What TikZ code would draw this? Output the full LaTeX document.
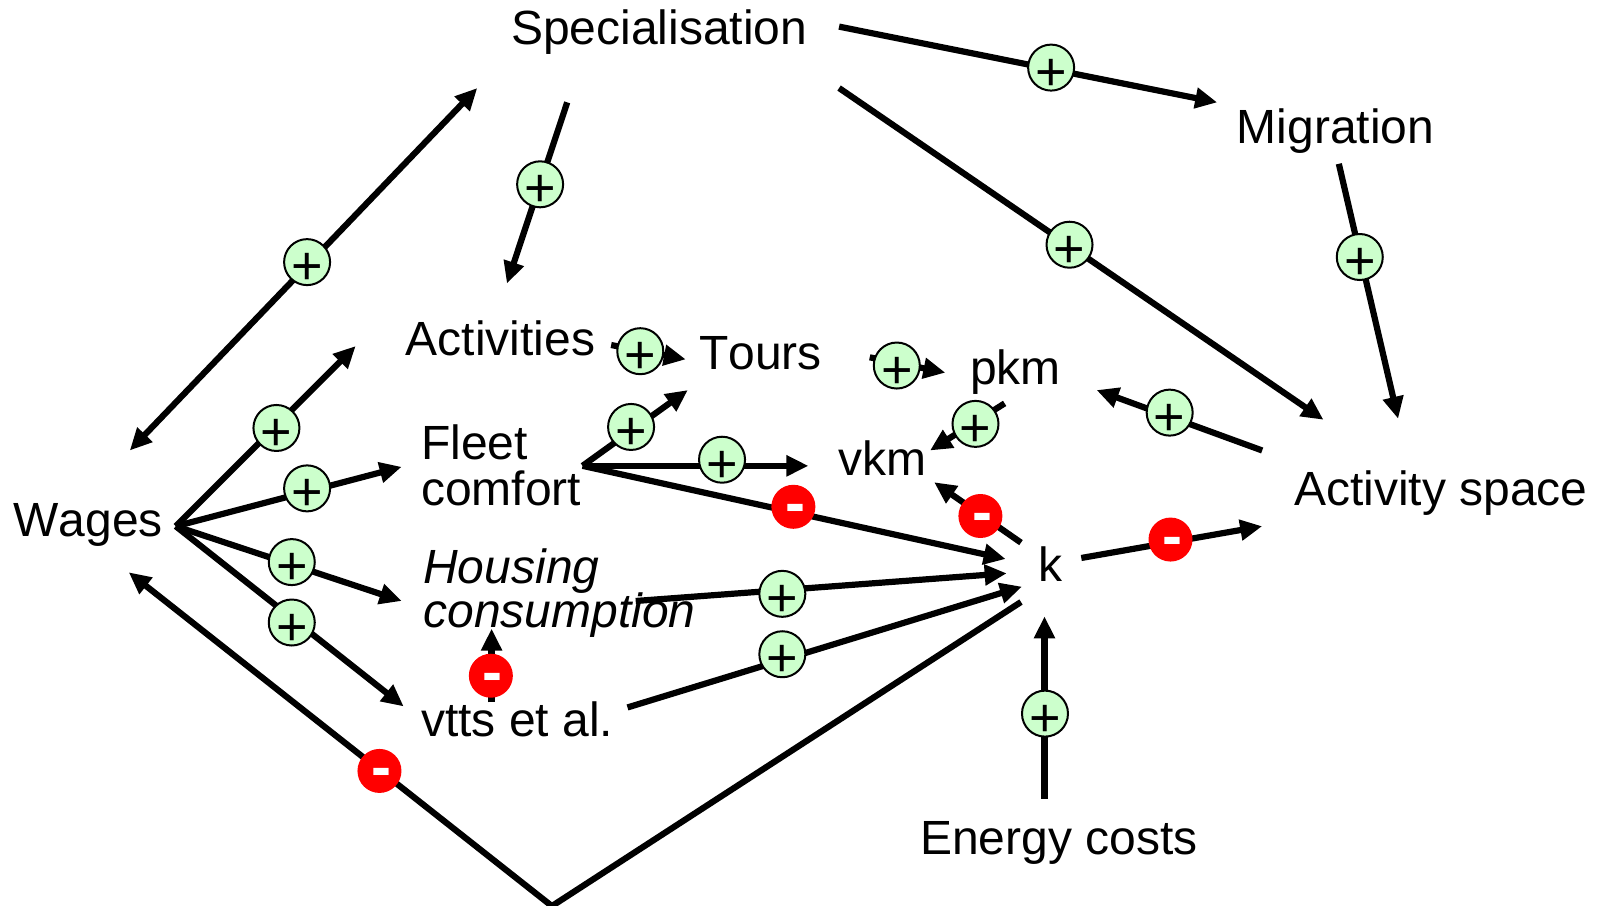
\documentclass[tikz,border=0pt]{standalone}
\usepackage{fontspec}
\setmainfont[Kerning=Off]{Liberation Sans}
\usetikzlibrary{arrows.meta}
\definecolor{plusgreen}{RGB}{204,255,204}
\tikzset{
  x=1.022pt,y=-1.0238pt,
  lbl/.style={anchor=base west,inner sep=0pt,font=\fontsize{48}{46}\selectfont},
  conn/.style={line width=6.2pt,line join=miter,-{Triangle[length=22pt,width=20pt]}},
  both/.style={line width=6.2pt,{Triangle[length=22pt,width=20pt]}-{Triangle[length=22pt,width=20pt]}},
  plusbadge/.style={circle,draw=black,line width=2pt,fill=plusgreen,minimum size=46pt,inner sep=0pt,xshift=0.5pt,yshift=1pt,text height=45pt,text depth=0pt,font=\fontsize{54}{54}\selectfont},
  minusbadge/.style={circle,fill=red,text=white,minimum size=44pt,inner sep=0pt,xshift=0.3pt,yshift=0pt,text height=33pt,text depth=0pt,font=\fontsize{60}{60}\bfseries\selectfont},
}
\newcommand{\plussign}{\makebox[0pt]{+}}
\newcommand{\minussign}{\makebox[0pt]{\hspace*{4pt}-}}
\begin{document}
\begin{tikzpicture}
\path[use as bounding box] (0pt,0pt) rectangle (1603pt,-905pt);
% texts
\node[lbl] (spec) at (500,43) {Specialisation};
\node[lbl] (migr) at (1210,140) {Migration};
\node[lbl] (acti) at (397,347) {Activities};
\node[lbl] (tour) at (684,361) {Tours};
\node[lbl] (pkm) at (949,376) {pkm};
\node[lbl] (fleet) at (412,449) {Fleet};
\node[lbl] (comf) at (412,494) {comfort};
\node[lbl] (vkm) at (820,464) {vkm};
\node[lbl] (wage) at (13,524) {Wages};
\node[lbl] (hous) at (414,570) {\itshape Housing};
\node[lbl] (cons) at (414,613) {\itshape consumption};
\node[lbl] (k) at (1016,568) {k};
\node[lbl] (vtts) at (412,719) {vtts et al.};
\node[lbl] (aspace) at (1266,494) {Activity space};
\node[lbl] (ener) at (900,835) {Energy costs};
% connector ends
\coordinate (wS) at (127,440);
\coordinate (sW) at (467,86);
\coordinate (sA) at (555,100);
\coordinate (aS) at (496,277);
\coordinate (sM) at (821,26);
\coordinate (mS) at (1191,100);
\coordinate (sX) at (821,86);
\coordinate (xS) at (1295,410);
\coordinate (mX) at (1310,160);
\coordinate (xM) at (1368,409);
\coordinate (wF) at (172,514);
\coordinate (aW) at (348,338);
\coordinate (fW) at (393,456);
\coordinate (hW) at (393,587);
\coordinate (vW) at (395,690);
\coordinate (aT) at (598,337);
\coordinate (tA) at (671,351);
\coordinate (tP) at (851,349);
\coordinate (pT) at (925,364);
\coordinate (fF) at (570,455);
\coordinate (tF) at (673,381);
\coordinate (vF) at (791,455);
\coordinate (kF) at (984,546);
\coordinate (pV) at (983,394);
\coordinate (vP) at (910,440);
\coordinate (xP) at (1235,440);
\coordinate (pX) at (1073,381);
\coordinate (kV) at (999,530);
\coordinate (vK) at (914,471);
\coordinate (kX) at (1058,545);
\coordinate (xK) at (1235,514);
\coordinate (hK) at (622,587);
\coordinate (kH) at (985,560);
\coordinate (vtK) at (614,691);
\coordinate (kVt) at (1000,573);
\coordinate (vtH) at (481,686);
\coordinate (hVt) at (481,614);
\coordinate (eK) at (1022,780);
\coordinate (kE) at (1022,602);
\coordinate (kW) at (999,588);
\coordinate (apex) at (540,885);
\coordinate (wK) at (126,559);
% connectors
\draw[both] (wS) -- (sW);
\draw[conn] (sA) -- (aS);
\draw[conn] (sM) -- (mS);
\draw[conn] (sX) -- (xS);
\draw[conn] (mX) -- (xM);
\draw[conn] (wF) -- (aW);
\draw[conn] (wF) -- (fW);
\draw[conn] (wF) -- (hW);
\draw[conn] (wF) -- (vW);
\draw[conn] (aT) -- (tA);
\draw[conn] (tP) -- (pT);
\draw[conn] (fF) -- (tF);
\draw[conn] (fF) -- (vF);
\draw[conn] (fF) -- (kF);
\draw[conn] (pV) -- (vP);
\draw[conn] (xP) -- (pX);
\draw[conn] (kV) -- (vK);
\draw[conn] (kX) -- (xK);
\draw[conn] (hK) -- (kH);
\draw[conn] (vtK) -- (kVt);
\draw[conn] (vtH) -- (hVt);
\draw[conn] (eK) -- (kE);
\draw[conn] (kW) -- (apex) -- (wK);
% badges
\node[plusbadge] (b1) at (300,257) {\plussign};
\node[plusbadge] (b2) at (528,181) {\plussign};
\node[plusbadge] (b3) at (1028,67) {\plussign};
\node[plusbadge] (b4) at (1046,240) {\plussign};
\node[plusbadge] (b5) at (1330,252) {\plussign};
\node[plusbadge] (b6) at (270,419) {\plussign};
\node[plusbadge] (b7) at (300,478) {\plussign};
\node[plusbadge] (b8) at (285,550) {\plussign};
\node[plusbadge] (b9) at (285,609) {\plussign};
\node[plusbadge] (b10) at (626,344) {\plussign};
\node[plusbadge] (b11) at (877,358) {\plussign};
\node[plusbadge] (b12) at (617,418) {\plussign};
\node[plusbadge] (b13) at (706,450) {\plussign};
\node[plusbadge] (b14) at (954,415) {\plussign};
\node[plusbadge] (b15) at (1144,404) {\plussign};
\node[plusbadge] (b16) at (765,581) {\plussign};
\node[plusbadge] (b17) at (765,640) {\plussign};
\node[plusbadge] (b18) at (1022,698) {\plussign};
\node[minusbadge] (m1) at (776,495) {\minussign};
\node[minusbadge] (m2) at (959,504) {\minussign};
\node[minusbadge] (m3) at (1145,527) {\minussign};
\node[minusbadge] (m4) at (480,660) {\minussign};
\node[minusbadge] (m5) at (371,753) {\minussign};
\end{tikzpicture}
\end{document}
